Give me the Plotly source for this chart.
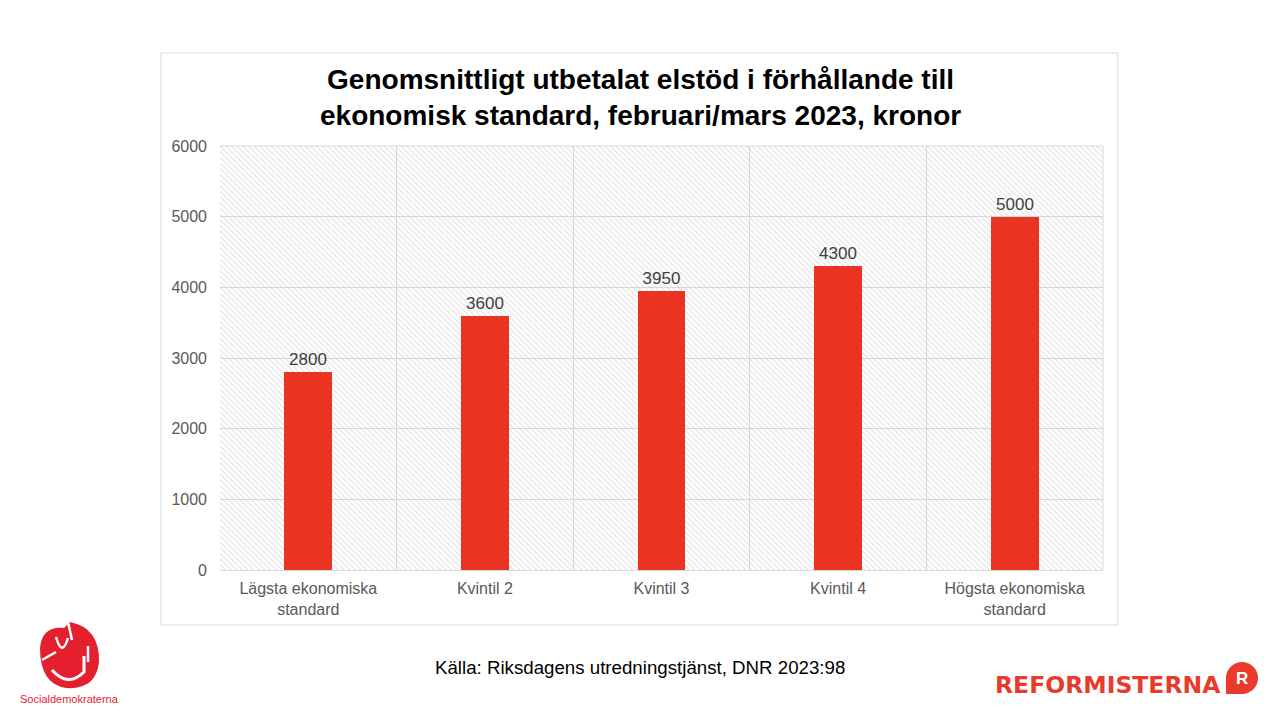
import plotly.graph_objects as go

categories = ["Lägsta ekonomiska<br>standard", "Kvintil 2", "Kvintil 3", "Kvintil 4", "Högsta ekonomiska<br>standard"]
values = [2800, 3600, 3950, 4300, 5000]
y_ticks = [0, 1000, 2000, 3000, 4000, 5000, 6000]
title_text = "Genomsnittligt utbetalat elstöd i förhållande till<br>ekonomisk standard, februari/mars 2023, kronor"
source_text = "Källa: Riksdagens utredningstjänst, DNR 2023:98"

FONT = "Liberation Sans, Arial, sans-serif"
RED = "#EA3323"
OFF = 8  # page body margin offset

fig = go.Figure()

# hatched plot-area background
fig.add_trace(go.Bar(
    x=[categories[2]], y=[y_ticks[-1]], width=[len(categories)],
    marker=dict(color="rgba(0,0,0,0)", line=dict(width=0),
                pattern=dict(shape="\\", fgcolor="#c8c8c8", bgcolor="rgba(255,255,255,0)",
                             size=4, solidity=0.3, fillmode="overlay")),
    hoverinfo="skip", showlegend=False,
))

fig.add_trace(go.Bar(
    x=categories, y=values, width=0.27,
    marker=dict(color=RED, line=dict(width=0)),
    text=[str(v) for v in values], textposition="outside",
    textfont=dict(family=FONT, size=17, color="#404040"),
    cliponaxis=False, showlegend=False,
))

W, H = 1280, 720
L, R, T, B = 220 - OFF, 1103 - OFF, 146 - OFF, 570 - OFF
pw, ph = R - L, B - T

def px(x):
    return (x - OFF - L) / pw

def py(y):
    return (B - (y - OFF)) / ph

fig.update_layout(
    width=W, height=H,
    margin=dict(l=L, r=W - R, t=T, b=H - B),
    paper_bgcolor="white", plot_bgcolor="white",
    barmode="overlay", bargap=0,
    font=dict(family=FONT),
    xaxis=dict(type="category", categoryorder="array", categoryarray=categories,
               tickson="boundaries", showgrid=True, gridcolor="#d9d9d9",
               gridwidth=1, ticks="", showline=True, linecolor="#d9d9d9",
               tickfont=dict(family=FONT, size=16, color="#595959"),
               range=[-0.5, 4.5], fixedrange=True, ticklen=0, ticklabelstandoff=4),
    yaxis=dict(range=[0, 6000], tickvals=y_ticks, showgrid=True, gridcolor="#d9d9d9",
               gridwidth=1, zeroline=False, showline=False, ticks="",
               tickfont=dict(family=FONT, size=16, color="#595959"), ticklabelstandoff=12),
    shapes=[
        dict(type="rect", xref="paper", yref="paper",
             x0=px(161), x1=px(1118), y0=py(625), y1=py(53),
             line=dict(color="#d9d9d9", width=1), fillcolor="rgba(0,0,0,0)", layer="below"),
        dict(type="line", xref="paper", yref="paper", x0=0, x1=1, y0=1, y1=1,
             line=dict(color="#d9d9d9", width=1)),
        dict(type="line", xref="paper", yref="paper", x0=1, x1=1, y0=0, y1=1,
             line=dict(color="#d9d9d9", width=1)),
        # Socialdemokraterna rose (approximate)
        dict(type="path", xref="paper", yref="paper",
             path=(f"M {px(40)},{py(648)} Q {px(42)},{py(626)} {px(64)},{py(628)} "
                   f"L {px(70)},{py(622)} Q {px(100)},{py(628)} {px(99)},{py(662)} "
                   f"Q {px(96)},{py(690)} {px(66)},{py(688)} Q {px(40)},{py(684)} {px(40)},{py(648)} Z"),
             fillcolor="#E5202E", line=dict(width=0)),
        dict(type="path", xref="paper", yref="paper",
             path=f"M {px(52)},{py(670)} Q {px(68)},{py(688)} {px(84)},{py(672)} L {px(84)},{py(656)}",
             line=dict(color="white", width=3)),
        dict(type="path", xref="paper", yref="paper",
             path=f"M {px(56)},{py(637)} Q {px(62)},{py(658)} {px(68)},{py(638)}",
             line=dict(color="white", width=2.5)),
        dict(type="line", xref="paper", yref="paper",
             x0=px(42), x1=px(56), y0=py(660), y1=py(652),
             line=dict(color="white", width=2.5)),
        dict(type="line", xref="paper", yref="paper",
             x0=px(68), x1=px(72), y0=py(622), y1=py(640),
             line=dict(color="white", width=2.5)),
        dict(type="line", xref="paper", yref="paper",
             x0=px(88), x1=px(88), y0=py(662), y1=py(646),
             line=dict(color="white", width=2.5)),
        # Reformisterna R badge
        dict(type="circle", xref="paper", yref="paper",
             x0=px(1226), x1=px(1258), y0=py(694), y1=py(662),
             fillcolor="#EA3A2C", line=dict(width=0)),
        dict(type="rect", xref="paper", yref="paper",
             x0=px(1226), x1=px(1242), y0=py(694), y1=py(678),
             fillcolor="#EA3A2C", line=dict(width=0)),
    ],
    annotations=[
        dict(text=f"<b>{title_text}</b>", xref="paper", yref="paper",
             x=px(640), y=py(97), xanchor="center", yanchor="middle", showarrow=False,
             font=dict(family=FONT, size=28, color="black")),
        dict(text=source_text, xref="paper", yref="paper",
             x=px(640), y=py(667), xanchor="center", yanchor="middle", showarrow=False,
             font=dict(family=FONT, size=18.7, color="black")),
        dict(text="Socialdemokraterna", xref="paper", yref="paper",
             x=px(69), y=py(699), xanchor="center", yanchor="middle", showarrow=False,
             font=dict(family=FONT, size=11, color="#E5202E")),
        dict(text="<b>REFORMISTERNA</b>", xref="paper", yref="paper",
             x=px(1223), y=py(685), xanchor="right", yanchor="middle", showarrow=False,
             font=dict(family="DejaVu Sans, sans-serif", size=23.5, color="#EA3A2C")),
        dict(text="<b>R</b>", xref="paper", yref="paper",
             x=px(1242), y=py(678), xanchor="center", yanchor="middle", showarrow=False,
             font=dict(family=FONT, size=17, color="white")),
    ],
)

fig.write_html("out.html")
